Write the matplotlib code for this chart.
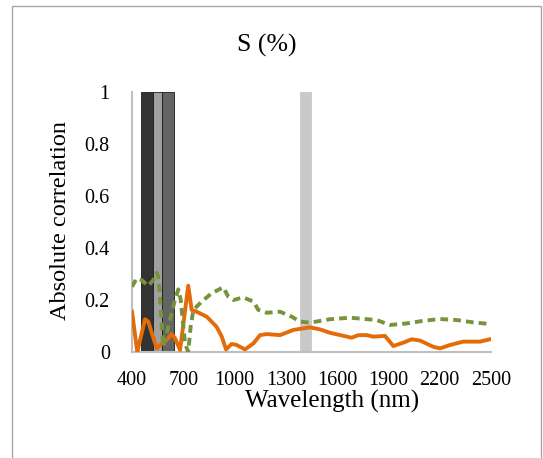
import matplotlib
matplotlib.use("Agg")
import matplotlib.pyplot as plt
from matplotlib.patches import Rectangle

plt.rcParams['font.family'] = ['Liberation Serif', 'DejaVu Serif']

# orange solid curve
orange_nm = [400, 431, 476, 495, 544, 574, 603, 632, 651, 681, 729, 749, 778, 837,
             895, 925, 950, 983, 1012, 1061, 1110, 1149, 1188, 1266, 1344, 1441,
             1500, 1558, 1685, 1724, 1773, 1812, 1880, 1929, 1987, 2036, 2085,
             2163, 2202, 2260, 2338, 2436, 2494]
orange_r = [0.155, 0.0, 0.126, 0.117, 0.014, 0.033, 0.046, 0.069, 0.054, 0.008,
            0.255, 0.162, 0.155, 0.136, 0.097, 0.059, 0.010, 0.031, 0.027, 0.010,
            0.033, 0.065, 0.069, 0.065, 0.085, 0.095, 0.087, 0.074, 0.055, 0.065,
            0.065, 0.059, 0.062, 0.023, 0.036, 0.049, 0.044, 0.020, 0.014, 0.027,
            0.040, 0.040, 0.049]

# green dashed curve
green_nm = [400, 427, 456, 495, 525, 544, 554, 564, 574, 583, 603, 622, 651, 671,
            685, 710, 729, 743, 759, 808, 866, 934, 963, 993, 1051, 1110, 1139,
            1188, 1266, 1334, 1383, 1441, 1558, 1675, 1831, 1909, 2007, 2104,
            2202, 2299, 2397, 2490]
green_r = [0.251, 0.283, 0.277, 0.254, 0.277, 0.305, 0.290, 0.213, 0.097, 0.020,
           0.072, 0.123, 0.200, 0.241, 0.200, 0.033, 0.0, 0.097, 0.162, 0.194,
           0.226, 0.249, 0.213, 0.200, 0.210, 0.194, 0.162, 0.151, 0.155, 0.136,
           0.117, 0.113, 0.126, 0.132, 0.123, 0.104, 0.110, 0.120, 0.127, 0.123,
           0.114, 0.108]

# highlighted bands: start, end, colour
band_start = [450, 522, 578, 1380]
band_end = [522, 578, 645, 1450]
band_color = ['#333333', '#a0a0a0', '#646464', '#c9c9c9']

x_ticks = [400, 700, 1000, 1300, 1600, 1900, 2200, 2500]
y_ticks = [0, 0.2, 0.4, 0.6, 0.8, 1]
y_tick_labels = ['0', '0.2', '0.4', '0.6', '0.8', '1']

fig = plt.figure(figsize=(5.43, 4.58), dpi=100)
ax = fig.add_axes([0.2431, 0.2314, 0.6611, 0.5677])

# outer frame of the chart (bottom edge runs off the page)
fig.patches.append(Rectangle((12 / 543, -0.1), 529 / 543, 1.1 - 6 / 458,
                             transform=fig.transFigure, fill=False,
                             edgecolor='#a6a6a6', linewidth=1.0))

widths = [e - s for s, e in zip(band_start, band_end)]
bars = ax.bar(band_start, [1] * len(band_start), width=widths, align='edge',
              color=band_color, edgecolor='#1a1a1a', linewidth=0.6, zorder=1)
bars[-1].set_edgecolor(band_color[-1])

ax.plot(orange_nm, orange_r, color='#e36c09', linewidth=2.8, zorder=3,
        solid_joinstyle='round')
ax.plot(green_nm, green_r, color='#77933c', linewidth=2.8,
        linestyle=(0, (2.0, 1.3)), zorder=3)

ax.set_xlim(400, 2500)
ax.set_ylim(0, 1)
ax.set_xticks(x_ticks)
ax.set_xticklabels([str(t) for t in x_ticks])
ax.set_yticks(y_ticks)
ax.set_yticklabels(y_tick_labels)
ax.tick_params(length=0, labelsize=14.5)
ax.tick_params(axis='x', pad=14)
ax.tick_params(axis='y', pad=16)

for side in ['top', 'right']:
    ax.spines[side].set_visible(False)
for side in ['left', 'bottom']:
    ax.spines[side].set_color('#bfbfbf')
    ax.spines[side].set_linewidth(1.5)

fig.text(267 / 543, 1 - 45 / 458, 'S (%)', ha='center', va='center', fontsize=18.5)
ax.set_xlabel('Wavelength (nm)', fontsize=18, va='center')
ax.xaxis.set_label_coords(0.557, -0.192)
ax.set_ylabel('Absolute correlation', fontsize=17.5, va='center')
ax.yaxis.set_label_coords(-0.198, 0.504)

fig.savefig('out.png', dpi=100)
